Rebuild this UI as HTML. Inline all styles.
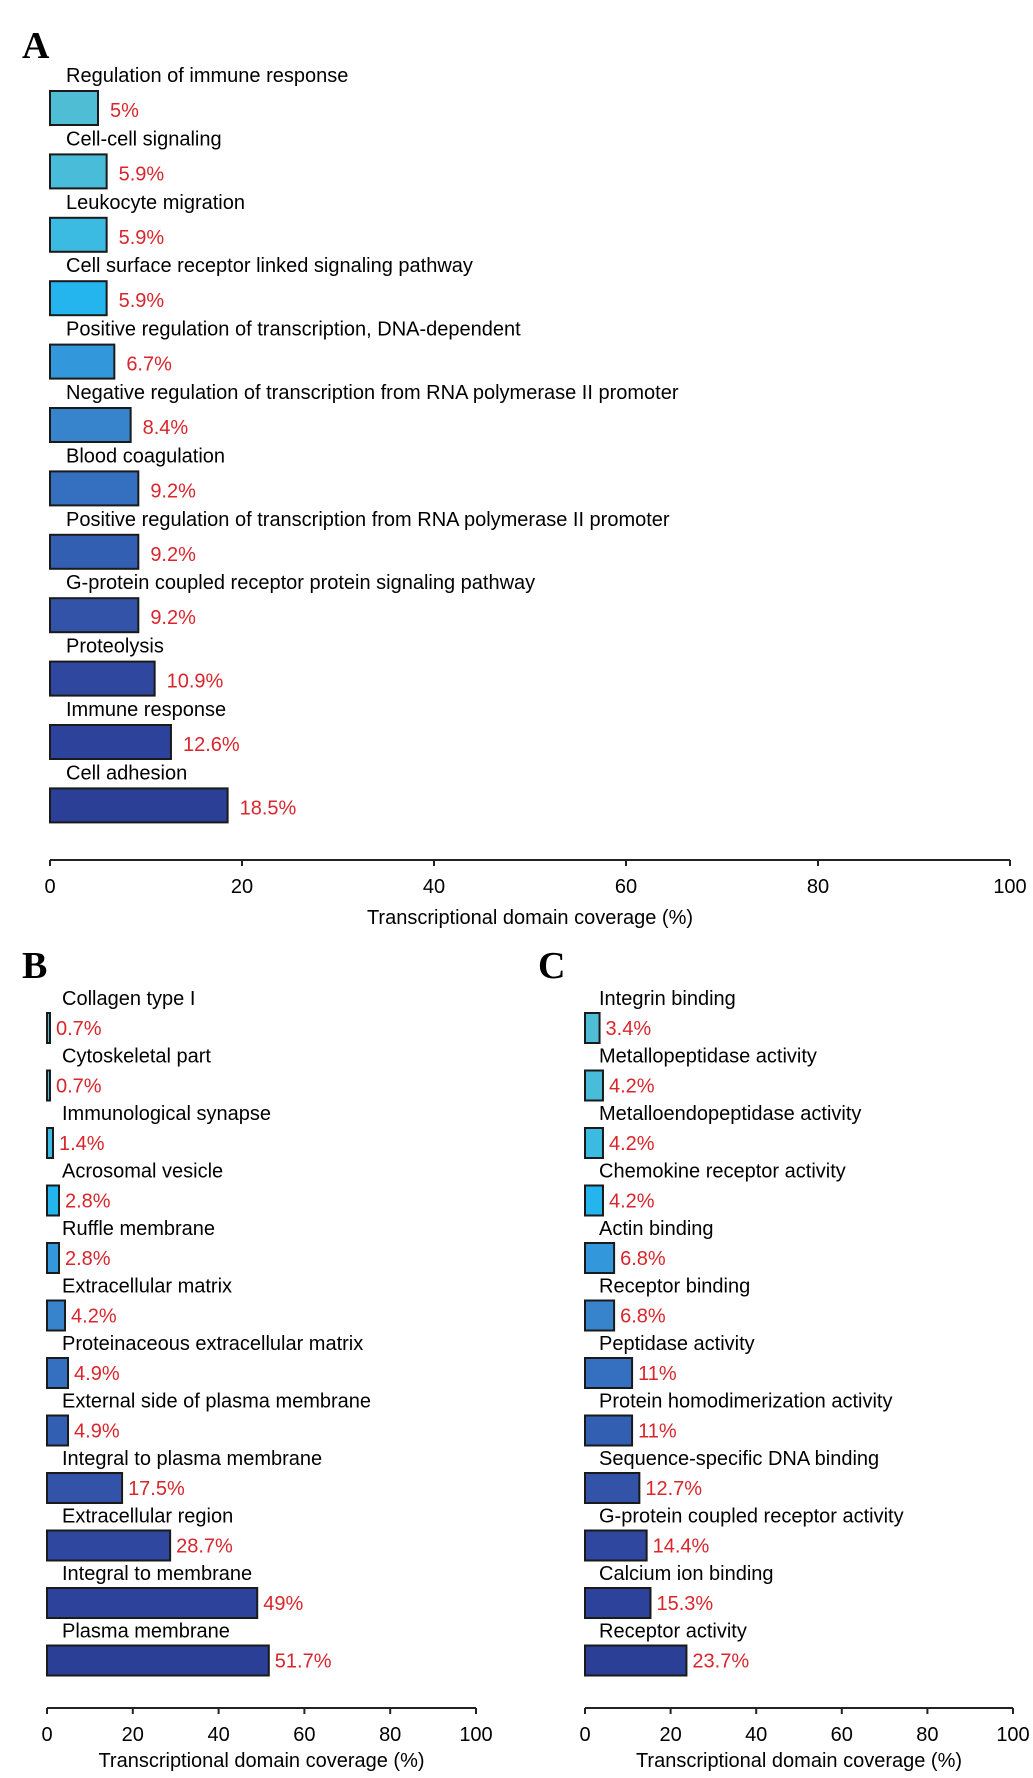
<!DOCTYPE html>
<html><head><meta charset="utf-8"><style>
html,body{margin:0;padding:0;background:#fff;}
svg{display:block;font-family:"Liberation Sans",Arial,sans-serif;}
</style></head><body>
<svg id="fig" width="1033" height="1778" viewBox="0 0 1033 1778" xmlns="http://www.w3.org/2000/svg">
<text x="22" y="58" font-family="Liberation Serif,serif" font-weight="bold" font-size="38">A</text>
<text x="22" y="978" font-family="Liberation Serif,serif" font-weight="bold" font-size="38">B</text>
<text x="538" y="978" font-family="Liberation Serif,serif" font-weight="bold" font-size="38">C</text>
</svg>
<script>
const catsA = ["Regulation of immune response","Cell-cell signaling","Leukocyte migration","Cell surface receptor linked signaling pathway","Positive regulation of transcription, DNA-dependent","Negative regulation of transcription from RNA polymerase II promoter","Blood coagulation","Positive regulation of transcription from RNA polymerase II promoter","G-protein coupled receptor protein signaling pathway","Proteolysis","Immune response","Cell adhesion"];
const valsA = [5,5.9,5.9,5.9,6.7,8.4,9.2,9.2,9.2,10.9,12.6,18.5];
const labelsA = ["5%","5.9%","5.9%","5.9%","6.7%","8.4%","9.2%","9.2%","9.2%","10.9%","12.6%","18.5%"];
const catsB = ["Collagen type I","Cytoskeletal part","Immunological synapse","Acrosomal vesicle","Ruffle membrane","Extracellular matrix","Proteinaceous extracellular matrix","External side of plasma membrane","Integral to plasma membrane","Extracellular region","Integral to membrane","Plasma membrane"];
const valsB = [0.7,0.7,1.4,2.8,2.8,4.2,4.9,4.9,17.5,28.7,49,51.7];
const labelsB = ["0.7%","0.7%","1.4%","2.8%","2.8%","4.2%","4.9%","4.9%","17.5%","28.7%","49%","51.7%"];
const catsC = ["Integrin binding","Metallopeptidase activity","Metalloendopeptidase activity","Chemokine receptor activity","Actin binding","Receptor binding","Peptidase activity","Protein homodimerization activity","Sequence-specific DNA binding","G-protein coupled receptor activity","Calcium ion binding","Receptor activity"];
const valsC = [3.4,4.2,4.2,4.2,6.8,6.8,11,11,12.7,14.4,15.3,23.7];
const labelsC = ["3.4%","4.2%","4.2%","4.2%","6.8%","6.8%","11%","11%","12.7%","14.4%","15.3%","23.7%"];
const ticks = [0,20,40,60,80,100];
const colors = ["#4fbdd3","#48bcd9","#3cbbe2","#24b4ee","#3298db","#3784cd","#3470bf","#335fb3","#3353a9","#2f479f","#2d429b","#2c3f97"];

const svg = document.getElementById('fig');
const NS = "http://www.w3.org/2000/svg";
function mk(tag, attrs){const e=document.createElementNS(NS,tag);for(const k in attrs)e.setAttribute(k,attrs[k]);svg.appendChild(e);return e;}

function panel(p){
  const xs = v => p.x0 + (v/100)*(p.x1-p.x0);
  p.cats.forEach((c,i)=>{
    const top = p.top + i*p.pitch;
    const t = mk('text',{x:p.lx,y:top-p.lo,'font-size':p.fs,fill:'#000'});
    t.textContent = c;
    
    
    const w = Math.max(xs(p.vals[i])-xs(0),1.5);
    const r = mk('rect',{x:xs(0),y:top,width:w,height:p.bh,fill:colors[i],stroke:'#1a1a1a','stroke-width':2});
    
    
    const vx = xs(0)+w+p.vg;
    const v = mk('text',{x:vx,y:top+p.vo,'font-size':p.fs,fill:'#d8262c'});
    v.textContent = p.labels[i];
    
    
  });
  const ax = mk('line',{x1:xs(0),x2:xs(100),y1:p.ay,y2:p.ay,stroke:'#222','stroke-width':2});
  
  
  ticks.forEach(tv=>{
    const tk = mk('line',{x1:xs(tv),x2:xs(tv),y1:p.ay,y2:p.ay+6,stroke:'#222','stroke-width':2});
    
    
    const tl = mk('text',{x:xs(tv),y:p.ay+33,'font-size':p.fs,'text-anchor':'middle',fill:'#000'});
    tl.textContent = tv;
    
    
  });
  const tc = (xs(0)+xs(100))/2;
  const tt = mk('text',{x:tc,y:p.ty,'font-size':p.fs,'text-anchor':'middle',fill:'#000'});
  tt.textContent = "Transcriptional domain coverage (%)";
  
  
}

panel({cats:catsA,vals:valsA,labels:labelsA,x0:50,x1:1010,top:91,pitch:63.4,bh:34,lx:66,lo:9,vg:12,vo:26,fs:20,ay:860,ty:924});
panel({cats:catsB,vals:valsB,labels:labelsB,x0:47,x1:476,top:1013,pitch:57.5,bh:30,lx:62,lo:8,vg:6,vo:22,fs:20,ay:1708,ty:1767});
panel({cats:catsC,vals:valsC,labels:labelsC,x0:585,x1:1013,top:1013,pitch:57.5,bh:30,lx:599,lo:8,vg:6,vo:22,fs:20,ay:1708,ty:1767});
</script>
</body></html>
